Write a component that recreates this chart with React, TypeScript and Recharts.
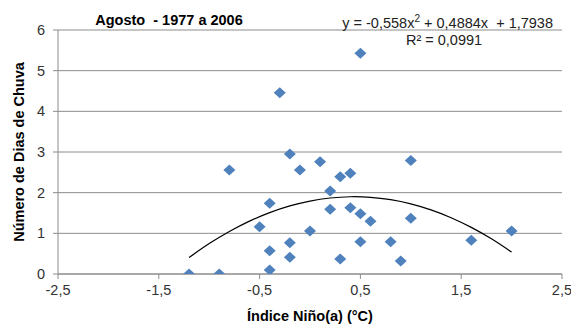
import React from "react";
import { ComposedChart, Scatter, Line, XAxis, YAxis, CartesianGrid, Label } from "recharts";

const ninoIndex = [-1.2, -0.9, -0.8, -0.4, -0.5, -0.4, -0.4, -0.2, -0.2, -0.3, -0.2, -0.1, 0.1, 0.3, 0.4, 1.0, 0.2, 0.2, 0.4, 0.5, 0.6, 1.0, 0.0, 0.5, 0.8, 0.3, 0.9, 1.6, 2.0, 0.5];
const rainDays = [0, 0, 2.56, 1.74, 1.16, 0.57, 0.1, 0.77, 0.41, 4.46, 2.95, 2.56, 2.76, 2.39, 2.48, 2.79, 2.04, 1.59, 1.63, 1.48, 1.3, 1.37, 1.06, 0.79, 0.79, 0.37, 0.32, 0.83, 1.06, 5.43];

const trendX = [-1.2, -1.0, -0.8, -0.6, -0.4, -0.2, 0, 0.2, 0.4, 0.6, 0.8, 1.0, 1.2, 1.4, 1.6, 1.8, 2.0];
const trendY = [0.404, 0.747, 1.046, 1.3, 1.509, 1.674, 1.794, 1.869, 1.9, 1.886, 1.827, 1.724, 1.576, 1.384, 1.147, 0.865, 0.539];

const xTicks = [-2.5, -1.5, -0.5, 0.5, 1.5, 2.5];
const yTicks = [0, 1, 2, 3, 4, 5, 6];

const title = "Agosto  - 1977 a 2006";
const xTitle = "Índice Niño(a) (°C)";
const yTitle = "Número de Dias de Chuva";

const points = ninoIndex.map((x, i) => ({ x, y: rainDays[i] }));
const trend = trendX.map((x, i) => ({ x, y: trendY[i] }));

const FONT = "'Liberation Sans', Arial, sans-serif";
const FS = 14.5;

const Diamond = (props: any) => {
  const { cx, cy } = props;
  if (cx == null || cy == null) return null;
  return (
    <polygon
      points={`${cx},${cy - 5.5} ${cx + 6},${cy} ${cx},${cy + 5.5} ${cx - 6},${cy}`}
      fill="#4f81bd"
    />
  );
};

const fmt = (v: number) => String(v).replace(".", ",");

export default function App() {
  return (
    <div style={{ position: "absolute", left: 0, top: 0, width: 571, height: 325, background: "#fff" }}>
      <ComposedChart
        width={571}
        height={325}
        margin={{ top: 30, right: 9, bottom: 0, left: 0 }}
        style={{ fontFamily: FONT }}
      >
        <CartesianGrid vertical={false} stroke="#8c8c8c" strokeWidth={1} />
        <XAxis
          dataKey="x"
          type="number"
          domain={[-2.5, 2.5]}
          ticks={xTicks}
          tickFormatter={fmt}
          allowDataOverflow
          stroke="#8c8c8c"
          tickSize={5}
          tickMargin={6}
          tick={{ fill: "#333", fontSize: FS, fontFamily: FONT }}
          height={51}
        >
          <Label
            value={xTitle}
            position="insideBottom"
            offset={4}
            style={{ fontWeight: "bold", fontSize: FS, fill: "#000", fontFamily: FONT }}
          />
        </XAxis>
        <YAxis
          dataKey="y"
          type="number"
          domain={[0, 6]}
          ticks={yTicks}
          allowDataOverflow
          stroke="#8c8c8c"
          width={58}
          tickSize={5}
          tickMargin={8}
          tick={{ fill: "#333", fontSize: FS, fontFamily: FONT }}
        >
          <Label
            value={yTitle}
            angle={-90}
            position="insideLeft"
            offset={0}
            dx={19}
            style={{ fontWeight: "bold", fontSize: FS, fill: "#000", fontFamily: FONT, textAnchor: "middle" }}
          />
        </YAxis>
        <Line
          data={trend}
          dataKey="y"
          type="natural"
          stroke="#000"
          strokeWidth={1.2}
          dot={false}
          activeDot={false}
          isAnimationActive={false}
          legendType="none"
        />
        <Scatter data={points} dataKey="y" shape={<Diamond />} isAnimationActive={false} />
      </ComposedChart>
      <svg
        width={571}
        height={325}
        style={{ position: "absolute", left: 0, top: 0, pointerEvents: "none", whiteSpace: "pre" }}
      >
        <text x={169} y={25} textAnchor="middle" fontFamily={FONT} fontSize={FS} fontWeight="bold" fill="#000" xmlSpace="preserve">
          {title}
        </text>
        <text x={553} y={28} textAnchor="end" fontFamily={FONT} fontSize={FS} fill="#222" xmlSpace="preserve">
          <tspan>y = -0,558x</tspan>
          <tspan dy={-6} fontSize={10}>2</tspan>
          <tspan dy={6}>{" + 0,4884x  + 1,7938"}</tspan>
        </text>
        <text x={444} y={45} textAnchor="middle" fontFamily={FONT} fontSize={FS} fill="#222">
          R² = 0,0991
        </text>
      </svg>
    </div>
  );
}
